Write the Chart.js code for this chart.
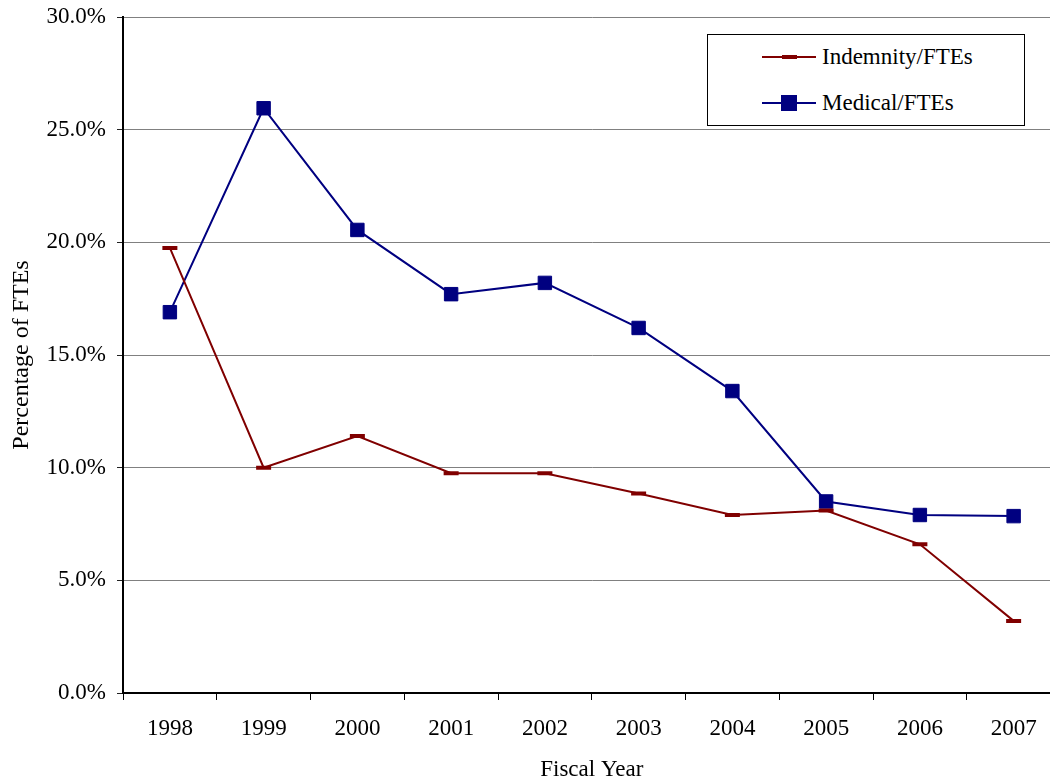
<!DOCTYPE html>
<html>
<head>
<meta charset="utf-8">
<script src="https://cdn.jsdelivr.net/npm/chart.js@4.4.1/dist/chart.umd.min.js"></script>
<style>
  html, body { margin: 0; padding: 0; background: #fff; overflow: hidden; }
  #wrap { position: relative; width: 1072px; height: 784px; }
  #legend {
    position: absolute; left: 707px; top: 34px; width: 316px; height: 90px;
    border: 1px solid #000; background: #fff;
    font-family: 'Liberation Serif', 'Times New Roman', serif; font-size: 23px; color: #000;
  }
  .item { position: absolute; left: 54px; height: 24px; display: flex; align-items: center; }
  .sample { position: relative; width: 54px; height: 24px; margin-right: 6px; }
  .sample .ln { position: absolute; left: 0; right: 0; top: 11px; height: 2px; }
  .sample .mk { position: absolute; }
</style>
</head>
<body>
<div id="wrap">
  <canvas id="fteChart" width="1072" height="784"></canvas>
  <div id="legend">
    <div class="item" style="top:10px">
      <div class="sample"><div class="ln" style="background:#800000"></div>
        <div class="mk" style="left:20px;top:10px;width:15px;height:4px;background:#800000"></div></div>
      <span>Indemnity/FTEs</span>
    </div>
    <div class="item" style="top:56px">
      <div class="sample"><div class="ln" style="background:#000080"></div>
        <div class="mk" style="left:19px;top:4px;width:16px;height:16px;background:#000080"></div></div>
      <span>Medical/FTEs</span>
    </div>
  </div>
</div>
<script>
// Workers' comp claims as share of FTEs, by fiscal year

const years     = ['1998','1999','2000','2001','2002','2003','2004','2005','2006','2007'];
const indemnity = [19.75, 10.0, 11.4, 9.75, 9.75, 8.85, 7.9, 8.1, 6.6, 3.2];
const medical   = [16.9, 25.95, 20.55, 17.7, 18.2, 16.2, 13.4, 8.5, 7.9, 7.85];
const yTicks    = [0, 5, 10, 15, 20, 25, 30];

const SERIF = "'Liberation Serif','Times New Roman',serif";

new Chart(document.getElementById('fteChart'), {
  type: 'line',
  data: {
    labels: years,
    datasets: [
      {
        label: 'Indemnity/FTEs',
        data: indemnity,
        borderColor: '#800000', borderWidth: 2,
        pointStyle: 'line', pointRadius: 7.5, pointBorderWidth: 4,
        pointBorderColor: '#800000', pointBackgroundColor: '#800000',
        tension: 0,
      },
      {
        label: 'Medical/FTEs',
        data: medical,
        borderColor: '#000080', borderWidth: 2,
        pointStyle: 'rect', pointRadius: 9.5, pointBorderWidth: 1,
        pointBorderColor: '#000080', pointBackgroundColor: '#000080',
        tension: 0,
      },
    ],
  },
  options: {
    responsive: false, animation: false,
    layout: { padding: { top: 17, left: 0, right: 2, bottom: 0 } },
    plugins: { legend: { display: false }, tooltip: { enabled: false } },
    scales: {
      x: {
        offset: true,
        grid: { drawOnChartArea: false, offset: true, tickLength: 7, tickColor: '#000' },
        border: { color: '#000', width: 2 },
        ticks: { color: '#000', font: { family: SERIF, size: 23 }, padding: 15, maxRotation: 0 },
        title: { display: true, text: 'Fiscal Year', color: '#000', font: { family: SERIF, size: 23 }, padding: { top: 0, bottom: 0 } },
        afterFit: s => { s.height = 91; },
      },
      y: {
        min: 0, max: 30,
        afterBuildTicks: s => { s.ticks = yTicks.map(v => ({ value: v })); },
        grid: { color: '#808080', lineWidth: 1, tickLength: 6, tickColor: '#222' },
        border: { color: '#000', width: 2 },
        ticks: { color: '#000', font: { family: SERIF, size: 23, lineHeight: 0.5 }, padding: 11, callback: v => v.toFixed(1) + '%' },
        title: { display: true, text: 'Percentage of FTEs', color: '#000', font: { family: SERIF, size: 24 }, padding: { top: 7, bottom: 0 } },
        afterFit: s => { s.width = 123; },
      },
    },
  },
});
</script>
</body>
</html>
